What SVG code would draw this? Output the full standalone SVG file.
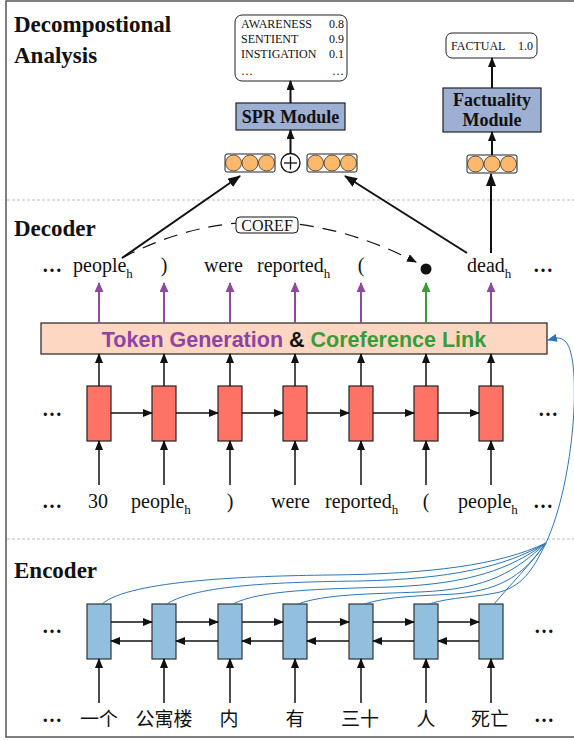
<svg xmlns="http://www.w3.org/2000/svg" width="574" height="740" viewBox="0 0 574 740">
<style>
.serif{font-family:"Liberation Serif","Times New Roman",serif;fill:#111}
.title{font-family:"Liberation Serif","Times New Roman",serif;font-weight:bold;font-size:23px;fill:#111}
.word{font-family:"Liberation Serif","Times New Roman",serif;font-size:20px;fill:#111}
.cjk{font-family:"Liberation Serif","Noto Sans CJK SC",serif;font-size:19px;fill:#111}
.dots{font-family:"Liberation Serif","Times New Roman",serif;font-size:20px;font-weight:bold;fill:#111}
.small{font-family:"Liberation Serif","Times New Roman",serif;font-size:12px;fill:#111}
.mod{font-family:"Liberation Serif","Times New Roman",serif;font-weight:bold;font-size:18px;fill:#111}
.dec{fill:#FF7366;stroke:#222;stroke-width:1.2}
.enc{fill:#92BFDD;stroke:#333;stroke-width:1.2}
.ar{stroke:#111;stroke-width:1.5;fill:none}
.arp{stroke:#8E4A9E;stroke-width:2;fill:none}
.arg{stroke:#3A9B3A;stroke-width:2;fill:none}
.ark{stroke:#111;stroke-width:2;fill:none}
.blue{stroke:#2E75B6;stroke-width:1;fill:none}
.sep{stroke:#BBB;stroke-width:1;stroke-dasharray:3,2}
.vec{fill:#fff;stroke:#222;stroke-width:1}
.dot{fill:#FDB96B;stroke:#333;stroke-width:0.8}
</style>
<defs>
<marker id="mk" markerWidth="10" markerHeight="8" refX="9" refY="4" orient="auto" markerUnits="userSpaceOnUse"><path d="M0,0 L10,4 L0,8 z" fill="#111"/></marker>
<marker id="mkb" markerWidth="13" markerHeight="10" refX="12" refY="5" orient="auto" markerUnits="userSpaceOnUse"><path d="M0,0 L13,5 L0,10 z" fill="#111"/></marker>
<marker id="mp" markerWidth="10" markerHeight="9" refX="9" refY="4.5" orient="auto" markerUnits="userSpaceOnUse"><path d="M0,0 L10,4.5 L0,9 z" fill="#8E4A9E"/></marker>
<marker id="mg" markerWidth="10" markerHeight="9" refX="9" refY="4.5" orient="auto" markerUnits="userSpaceOnUse"><path d="M0,0 L10,4.5 L0,9 z" fill="#3A9B3A"/></marker>
<marker id="mbl" markerWidth="10" markerHeight="8" refX="9" refY="4" orient="auto" markerUnits="userSpaceOnUse"><path d="M0,0 L10,4 L0,8 z" fill="#2E75B6"/></marker>
<marker id="md" markerWidth="10" markerHeight="8" refX="9" refY="4" orient="auto" markerUnits="userSpaceOnUse"><path d="M0,0 L10,4 L0,8 z" fill="#111"/></marker>
</defs>

<rect x="6" y="1" width="600" height="736" fill="#fff" stroke="#555" stroke-width="1.5"/>
<line class="sep" x1="7" y1="200" x2="574" y2="200"/>
<line class="sep" x1="7" y1="539" x2="574" y2="539"/>

<g id="titles">
<text class="title" x="14" y="32">Decompostional</text>
<text class="title" x="14" y="63">Analysis</text>
<text class="title" x="14" y="236">Decoder</text>
<text class="title" x="14" y="578">Encoder</text>
</g>

<g id="spr-output">
<rect x="235" y="15" width="112" height="66" rx="7" fill="#fff" stroke="#222" stroke-width="1"/>
<text class="small" x="241" y="28">AWARENESS</text><text class="small" x="344" y="28" text-anchor="end">0.8</text>
<text class="small" x="241" y="43">SENTIENT</text><text class="small" x="344" y="43" text-anchor="end">0.9</text>
<text class="small" x="241" y="58">INSTIGATION</text><text class="small" x="344" y="58" text-anchor="end">0.1</text>
<text class="small" x="241" y="75">…</text><text class="small" x="344" y="75" text-anchor="end">…</text>
</g>
<g id="spr-module">
<rect x="236" y="103" width="109" height="27" fill="#9DAFD3" stroke="#222" stroke-width="1.2"/>
<text class="mod" x="290.5" y="123" text-anchor="middle">SPR Module</text>
</g>
<g id="fact-output">
<rect x="446" y="33" width="91" height="25" rx="6" fill="#fff" stroke="#222" stroke-width="1"/>
<text class="small" x="451" y="50" font-size="12.5">FACTUAL</text><text class="small" x="533" y="50" text-anchor="end" font-size="12.5">1.0</text>
</g>
<g id="fact-module">
<rect x="443" y="88" width="98" height="44" fill="#9DAFD3" stroke="#222" stroke-width="1.2"/>
<text class="mod" x="492" y="106" text-anchor="middle">Factuality</text>
<text class="mod" x="492" y="126" text-anchor="middle">Module</text>
</g>
<g id="vec-left">
<rect class="vec" x="225" y="154" width="50" height="18" rx="2"/>
<circle class="dot" cx="233.5" cy="163" r="8"/><circle class="dot" cx="250" cy="163" r="8"/><circle class="dot" cx="266.5" cy="163" r="8"/>
</g>
<g id="oplus">
<circle cx="290.5" cy="163" r="9.5" fill="#fff" stroke="#111" stroke-width="1.3"/>
<line x1="284" y1="163" x2="297" y2="163" stroke="#111" stroke-width="1.3"/>
<line x1="290.5" y1="156.5" x2="290.5" y2="169.5" stroke="#111" stroke-width="1.3"/>
</g>
<g id="vec-right">
<rect class="vec" x="307" y="154" width="50" height="18" rx="2"/>
<circle class="dot" cx="315.5" cy="163" r="8"/><circle class="dot" cx="332" cy="163" r="8"/><circle class="dot" cx="348.5" cy="163" r="8"/>
</g>
<g id="vec-fact">
<rect class="vec" x="467" y="155" width="50" height="18" rx="2"/>
<circle class="dot" cx="475.5" cy="164" r="8"/><circle class="dot" cx="492" cy="164" r="8"/><circle class="dot" cx="508.5" cy="164" r="8"/>
</g>

<g id="decoder-words">
<text class="dots" x="42" y="272">…</text>
<text class="word" x="73" y="272">people<tspan font-size="13" dy="6">h</tspan></text>
<text class="word" x="164" y="272" text-anchor="middle">)</text>
<text class="word" x="204" y="272">were</text>
<text class="word" x="257" y="272">reported<tspan font-size="13" dy="6">h</tspan></text>
<text class="word" x="361" y="272" text-anchor="middle">(</text>
<text class="word" x="467" y="272">dead<tspan font-size="13" dy="6">h</tspan></text>
<text class="dots" x="533" y="272">…</text>
<circle cx="426" cy="269" r="5.5" fill="#111"/>
</g>

<g id="coref">
<path d="M122,258 Q263,184 416,262" fill="none" stroke="#111" stroke-width="1.2" stroke-dasharray="14,9" marker-end="url(#md)"/>
<rect x="236" y="217" width="62" height="16" rx="4" fill="#fff" stroke="#111" stroke-width="1"/>
<text class="serif" x="267" y="231" text-anchor="middle" font-size="16">COREF</text>
</g>

<g id="token-bar">
<rect x="41" y="323" width="506" height="31" fill="#FDD7C2" stroke="#222" stroke-width="1.2"/>
<text x="294" y="347" text-anchor="middle" font-family="'Liberation Sans',Arial,sans-serif" font-weight="bold" font-size="21.5"><tspan fill="#8E44A0">Token Generation</tspan><tspan fill="#111"> &amp; </tspan><tspan fill="#3A9B3A">Coreference Link</tspan></text>
</g>

<g id="decoder-cells">
<rect class="dec" x="87" y="386" width="24" height="55"/>
<rect class="dec" x="152" y="386" width="24" height="55"/>
<rect class="dec" x="218" y="386" width="24" height="55"/>
<rect class="dec" x="283" y="386" width="24" height="55"/>
<rect class="dec" x="349" y="386" width="24" height="55"/>
<rect class="dec" x="414" y="386" width="24" height="55"/>
<rect class="dec" x="479" y="386" width="24" height="55"/>
<text class="dots" x="42" y="416">…</text>
<text class="dots" x="538" y="416">…</text>
</g>

<g id="decoder-inputs">
<text class="dots" x="42" y="508">…</text>
<text class="word" x="98" y="508" text-anchor="middle">30</text>
<text class="word" x="131" y="508">people<tspan font-size="13" dy="6">h</tspan></text>
<text class="word" x="230" y="508" text-anchor="middle">)</text>
<text class="word" x="271" y="508">were</text>
<text class="word" x="325" y="508">reported<tspan font-size="13" dy="6">h</tspan></text>
<text class="word" x="426" y="508" text-anchor="middle">(</text>
<text class="word" x="458" y="508">people<tspan font-size="13" dy="6">h</tspan></text>
<text class="dots" x="533" y="508">…</text>
</g>

<g id="encoder-cells">
<rect class="enc" x="87" y="604" width="24" height="55"/>
<rect class="enc" x="152" y="604" width="24" height="55"/>
<rect class="enc" x="218" y="604" width="24" height="55"/>
<rect class="enc" x="283" y="604" width="24" height="55"/>
<rect class="enc" x="349" y="604" width="24" height="55"/>
<rect class="enc" x="414" y="604" width="24" height="55"/>
<rect class="enc" x="479" y="604" width="24" height="55"/>
<text class="dots" x="42" y="633">…</text>
<text class="dots" x="534" y="633">…</text>
</g>

<g id="encoder-inputs">
<text class="dots" x="42" y="722">…</text>
<text class="cjk" x="99" y="726" text-anchor="middle">一个</text>
<text class="cjk" x="164" y="726" text-anchor="middle">公寓楼</text>
<text class="cjk" x="229" y="726" text-anchor="middle">内</text>
<text class="cjk" x="295" y="726" text-anchor="middle">有</text>
<text class="cjk" x="360" y="726" text-anchor="middle">三十</text>
<text class="cjk" x="426" y="726" text-anchor="middle">人</text>
<text class="cjk" x="490" y="726" text-anchor="middle">死亡</text>
<text class="dots" x="534" y="722">…</text>
</g>

<g id="connectors">
<line class="ark" x1="122" y1="258" x2="240" y2="176" marker-end="url(#mkb)"/>
<line class="ark" x1="467" y1="253" x2="345" y2="176" marker-end="url(#mkb)"/>
<line class="ark" x1="491" y1="253" x2="491" y2="174" marker-end="url(#mkb)"/>
<line class="ark" x1="290.5" y1="153" x2="290.5" y2="130" marker-end="url(#mk)"/>
<line class="ark" x1="290.5" y1="103" x2="290.5" y2="81" marker-end="url(#mk)"/>
<line class="ark" x1="492" y1="155" x2="492" y2="132" marker-end="url(#mk)"/>
<line class="ark" x1="492" y1="88" x2="492" y2="58" marker-end="url(#mk)"/>
<line class="arp" x1="99" y1="323" x2="99" y2="283" marker-end="url(#mp)"/>
<line class="arp" x1="164" y1="323" x2="164" y2="283" marker-end="url(#mp)"/>
<line class="arp" x1="230" y1="323" x2="230" y2="283" marker-end="url(#mp)"/>
<line class="arp" x1="295" y1="323" x2="295" y2="283" marker-end="url(#mp)"/>
<line class="arp" x1="361" y1="323" x2="361" y2="283" marker-end="url(#mp)"/>
<line class="arg" x1="426" y1="323" x2="426" y2="283" marker-end="url(#mg)"/>
<line class="arp" x1="491" y1="323" x2="491" y2="283" marker-end="url(#mp)"/>
<line class="ar" x1="99" y1="386" x2="99" y2="354" marker-end="url(#mk)"/>
<line class="ar" x1="164" y1="386" x2="164" y2="354" marker-end="url(#mk)"/>
<line class="ar" x1="230" y1="386" x2="230" y2="354" marker-end="url(#mk)"/>
<line class="ar" x1="295" y1="386" x2="295" y2="354" marker-end="url(#mk)"/>
<line class="ar" x1="361" y1="386" x2="361" y2="354" marker-end="url(#mk)"/>
<line class="ar" x1="426" y1="386" x2="426" y2="354" marker-end="url(#mk)"/>
<line class="ar" x1="491" y1="386" x2="491" y2="354" marker-end="url(#mk)"/>
<line class="ar" x1="111" y1="413" x2="152" y2="413" marker-end="url(#mk)"/>
<line class="ar" x1="176" y1="413" x2="218" y2="413" marker-end="url(#mk)"/>
<line class="ar" x1="242" y1="413" x2="283" y2="413" marker-end="url(#mk)"/>
<line class="ar" x1="307" y1="413" x2="349" y2="413" marker-end="url(#mk)"/>
<line class="ar" x1="373" y1="413" x2="414" y2="413" marker-end="url(#mk)"/>
<line class="ar" x1="438" y1="413" x2="479" y2="413" marker-end="url(#mk)"/>
<line class="ar" x1="99" y1="485" x2="99" y2="441" marker-end="url(#mk)"/>
<line class="ar" x1="164" y1="485" x2="164" y2="441" marker-end="url(#mk)"/>
<line class="ar" x1="230" y1="485" x2="230" y2="441" marker-end="url(#mk)"/>
<line class="ar" x1="295" y1="485" x2="295" y2="441" marker-end="url(#mk)"/>
<line class="ar" x1="361" y1="485" x2="361" y2="441" marker-end="url(#mk)"/>
<line class="ar" x1="426" y1="485" x2="426" y2="441" marker-end="url(#mk)"/>
<line class="ar" x1="491" y1="485" x2="491" y2="441" marker-end="url(#mk)"/>
<line class="ar" x1="111" y1="622" x2="152" y2="622" marker-end="url(#mk)"/>
<line class="ar" x1="176" y1="622" x2="218" y2="622" marker-end="url(#mk)"/>
<line class="ar" x1="242" y1="622" x2="283" y2="622" marker-end="url(#mk)"/>
<line class="ar" x1="307" y1="622" x2="349" y2="622" marker-end="url(#mk)"/>
<line class="ar" x1="373" y1="622" x2="414" y2="622" marker-end="url(#mk)"/>
<line class="ar" x1="438" y1="622" x2="479" y2="622" marker-end="url(#mk)"/>
<line class="ar" x1="152" y1="641" x2="111" y2="641" marker-end="url(#mk)"/>
<line class="ar" x1="218" y1="641" x2="176" y2="641" marker-end="url(#mk)"/>
<line class="ar" x1="283" y1="641" x2="242" y2="641" marker-end="url(#mk)"/>
<line class="ar" x1="349" y1="641" x2="307" y2="641" marker-end="url(#mk)"/>
<line class="ar" x1="414" y1="641" x2="373" y2="641" marker-end="url(#mk)"/>
<line class="ar" x1="479" y1="641" x2="438" y2="641" marker-end="url(#mk)"/>
<line class="ar" x1="99" y1="703" x2="99" y2="659" marker-end="url(#mk)"/>
<line class="ar" x1="164" y1="703" x2="164" y2="659" marker-end="url(#mk)"/>
<line class="ar" x1="230" y1="703" x2="230" y2="659" marker-end="url(#mk)"/>
<line class="ar" x1="295" y1="703" x2="295" y2="659" marker-end="url(#mk)"/>
<line class="ar" x1="361" y1="703" x2="361" y2="659" marker-end="url(#mk)"/>
<line class="ar" x1="426" y1="703" x2="426" y2="659" marker-end="url(#mk)"/>
<line class="ar" x1="491" y1="703" x2="491" y2="659" marker-end="url(#mk)"/>
<path class="blue" d="M102,604 C130,580 250,576 330,575 C430,574 500,565 546,543"/>
<path class="blue" d="M167,604 C195,585 280,582 360,581 C450,579 505,567 546,543"/>
<path class="blue" d="M233,604 C260,590 320,589 390,587 C470,584 510,569 546,543"/>
<path class="blue" d="M298,604 C325,594 370,594 420,592 C490,589 515,571 546,543"/>
<path class="blue" d="M364,604 C390,596 420,596 455,594 C505,590 525,572 546,543"/>
<path class="blue" d="M429,604 C450,597 480,597 500,592 C525,585 535,565 546,543"/>
<path class="blue" d="M494,604 C510,585 530,565 546,543"/>
<path class="blue" d="M546,543 C575,480 582,360 566,342 C560,336 556,338 548,340" marker-end="url(#mbl)"/>
</g>
</svg>
